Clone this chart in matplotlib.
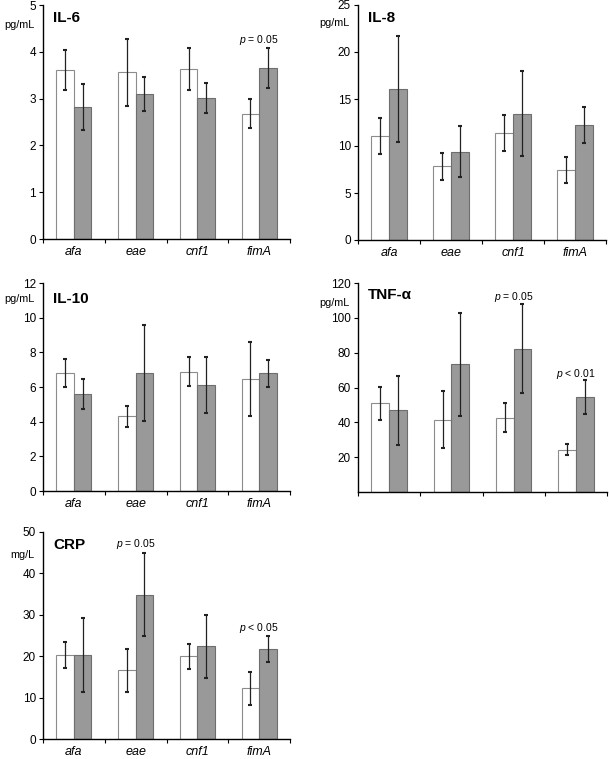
import matplotlib
matplotlib.use("Agg")
import matplotlib.pyplot as plt
import numpy as np

plt.rcParams['font.family'] = ['Liberation Sans', 'DejaVu Sans']
plt.rcParams['mathtext.fontset'] = 'custom'
plt.rcParams['mathtext.it'] = 'Liberation Sans:italic'
plt.rcParams['mathtext.rm'] = 'Liberation Sans'

categories = ["afa", "eae", "cnf1", "fimA"]

il6_white = [3.61, 3.56, 3.63, 2.68]
il6_white_err = [0.42, 0.72, 0.45, 0.31]
il6_grey = [2.82, 3.10, 3.01, 3.65]
il6_grey_err = [0.50, 0.36, 0.32, 0.43]

il8_white = [11.1, 7.85, 11.35, 7.45]
il8_white_err = [1.9, 1.45, 1.9, 1.4]
il8_grey = [16.1, 9.4, 13.45, 12.25]
il8_grey_err = [5.65, 2.7, 4.5, 1.95]

il10_white = [6.82, 4.30, 6.88, 6.45]
il10_white_err = [0.80, 0.60, 0.85, 2.15]
il10_grey = [5.60, 6.80, 6.12, 6.78]
il10_grey_err = [0.85, 2.75, 1.60, 0.80]

tnf_white = [50.9, 41.6, 42.6, 24.4]
tnf_white_err = [9.3, 16.6, 8.3, 3.4]
tnf_grey = [46.8, 73.3, 82.3, 54.7]
tnf_grey_err = [19.7, 29.7, 25.6, 9.8]

crp_white = [20.3, 16.6, 20.0, 12.2]
crp_white_err = [3.05, 5.2, 3.0, 3.9]
crp_grey = [20.3, 34.9, 22.4, 21.7]
crp_grey_err = [9.0, 10.0, 7.6, 3.2]

fig = plt.figure(figsize=(6.09, 7.59), dpi=100)

W = 609.0
H = 759.0

def axes_px(left, right, bottom, top):
    return [left / W, 1 - bottom / H, (right - left) / W, (bottom - top) / H]

panels = [
    dict(rect=axes_px(43, 290, 239, 5), title="IL-6", unit="pg/mL",
         white=il6_white, werr=il6_white_err, grey=il6_grey, gerr=il6_grey_err,
         ylim=5, yticks=[0, 1, 2, 3, 4, 5], title_y=4.72, unit_y=4.57,
         xlabels=True, notes=[(3, 4.25, "= 0.05")]),
    dict(rect=axes_px(358, 606, 240, 5), title="IL-8", unit="pg/mL",
         white=il8_white, werr=il8_white_err, grey=il8_grey, gerr=il8_grey_err,
         ylim=25, yticks=[0, 5, 10, 15, 20, 25], title_y=23.6, unit_y=23.1,
         xlabels=True, notes=[]),
    dict(rect=axes_px(43, 290, 491, 283), title="IL-10", unit="pg/mL",
         white=il10_white, werr=il10_white_err, grey=il10_grey, gerr=il10_grey_err,
         ylim=12, yticks=[0, 2, 4, 6, 8, 10, 12], title_y=11.1, unit_y=11.05,
         xlabels=True, notes=[]),
    dict(rect=axes_px(358, 607, 492, 283), title="TNF-α", unit="pg/mL",
         white=tnf_white, werr=tnf_white_err, grey=tnf_grey, gerr=tnf_grey_err,
         ylim=120, yticks=[20, 40, 60, 80, 100, 120], title_y=113, unit_y=108.5,
         xlabels=False, notes=[(2, 112, "= 0.05"), (3, 68, "< 0.01")]),
    dict(rect=axes_px(43, 290, 739, 532), title="CRP", unit="mg/L",
         white=crp_white, werr=crp_white_err, grey=crp_grey, gerr=crp_grey_err,
         ylim=50, yticks=[0, 10, 20, 30, 40, 50], title_y=46.9, unit_y=44.4,
         xlabels=True, notes=[(1, 47.1, "= 0.05"), (3, 26.7, "< 0.05")]),
]

bw = 0.285
x = np.arange(len(categories))

for p in panels:
    ax = fig.add_axes(p["rect"])
    ax.bar(x - bw / 2, p["white"], width=bw, color="white", edgecolor="#8c8c8c",
           linewidth=0.8, zorder=2)
    ax.bar(x + bw / 2, p["grey"], width=bw, color="#999999", edgecolor="#6e6e6e",
           linewidth=0.8, zorder=2)
    ax.errorbar(x - bw / 2, p["white"], yerr=p["werr"], fmt="none", ecolor="#222222",
                elinewidth=0.9, capsize=1.2, capthick=1.5, zorder=3)
    ax.errorbar(x + bw / 2, p["grey"], yerr=p["gerr"], fmt="none", ecolor="#222222",
                elinewidth=0.9, capsize=1.2, capthick=1.5, zorder=3)
    ax.set_xlim(-0.5, len(categories) - 0.5)
    ax.set_ylim(0, p["ylim"])
    ax.set_yticks(p["yticks"])
    ax.set_yticklabels([str(t) for t in p["yticks"]], fontsize=8.5)
    ax.spines["top"].set_visible(False)
    ax.spines["right"].set_visible(False)
    ax.spines["left"].set_linewidth(1.0)
    ax.spines["bottom"].set_linewidth(1.0)
    ax.tick_params(axis="y", direction="out", length=3, width=0.8, pad=2)
    ax.set_xticks(x)
    if p["xlabels"]:
        ax.set_xticklabels(categories, fontsize=9, style="italic")
    else:
        ax.set_xticklabels([])
    ax.tick_params(axis="x", which="major", length=0, pad=5)
    ax.set_xticks(np.arange(-0.5, len(categories)), minor=True)
    ax.tick_params(axis="x", which="minor", direction="out", length=3, width=0.8)
    ax.text(0.04, p["title_y"], p["title"], transform=ax.get_yaxis_transform(),
            fontsize=11, fontweight="bold", ha="left", va="center")
    ax.text(-0.035, p["unit_y"], p["unit"], transform=ax.get_yaxis_transform(),
            fontsize=7.8, ha="right", va="center")
    for (ci, yv, txt) in p["notes"]:
        ax.text(ci, yv, r"$\it{p}$ " + txt, fontsize=7.5, ha="center", va="center")

fig.savefig("out.png", dpi=100)
